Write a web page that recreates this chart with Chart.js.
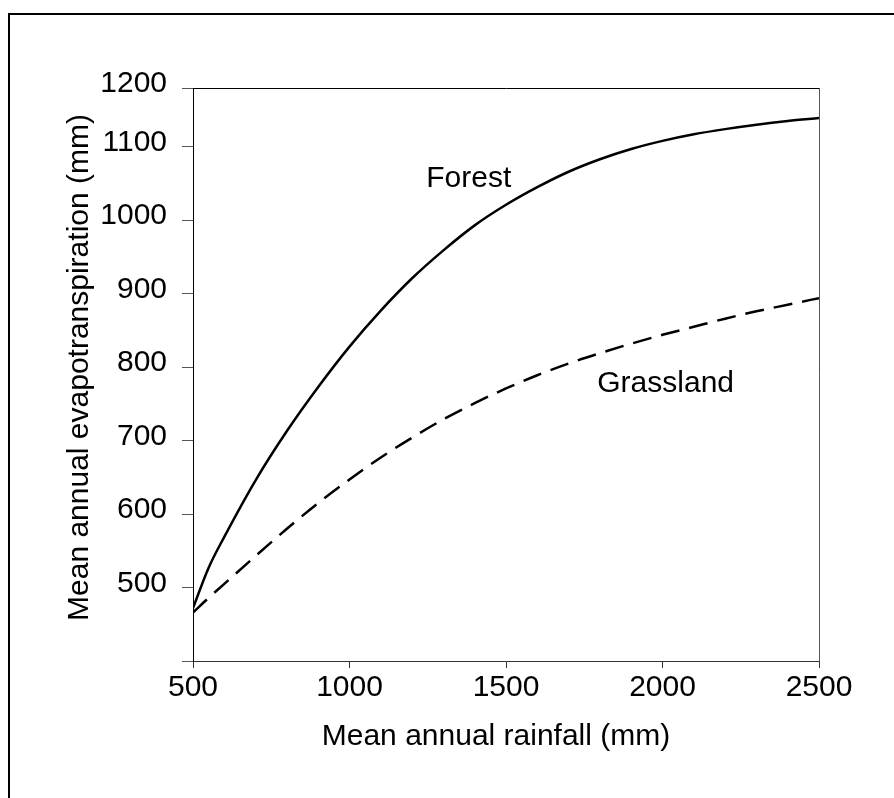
<!DOCTYPE html>
<html>
<head>
<meta charset="utf-8">
<title>Rainfall vs evapotranspiration</title>
<style>
  html, body { margin: 0; padding: 0; background: #fff; }
  #wrap { width: 894px; height: 798px; }
</style>
<script src="https://cdn.jsdelivr.net/npm/chart.js@4.4.1/dist/chart.umd.min.js"></script>
</head>
<body>
<div id="wrap"><canvas id="etChart" width="894" height="798"></canvas></div>
<script>
// Mean annual rainfall (mm) and the two evapotranspiration curves (mm)
const rainfall = [500, 550, 600, 700, 800, 900, 1000, 1100, 1200, 1300, 1400, 1500,
                  1600, 1700, 1800, 1900, 2000, 2100, 2200, 2300, 2400, 2500];
const forestET = [472, 527, 569, 646, 713, 773, 828, 877, 921, 959, 993, 1021,
                  1045, 1066, 1083, 1097, 1108, 1117, 1124, 1130, 1135, 1139];
const grasslandET = [466, 486, 505, 543, 580, 615, 647, 677, 704, 729, 751, 771,
                     789, 805, 819, 832, 844, 855, 866, 876, 885, 894];

const xTickValues = [500, 1000, 1500, 2000, 2500];
const yTickValues = [400, 500, 600, 700, 800, 900, 1000, 1100, 1180];
const yTickLabels = ['', '500', '600', '700', '800', '900', '1000', '1100', '1200'];

// curve names, placed in data units
const curveLabels = [
  { text: 'Forest', x: 1381, y: 1057 },
  { text: 'Grassland', x: 2010, y: 777 }
];

const FONT = "'Liberation Sans', Arial, Helvetica, sans-serif";

const toPoints = (xs, ys) => xs.map((x, i) => ({ x: x, y: ys[i] }));

// outer frame, top/right sides of the plot box, titles and curve names
const decorations = {
  id: 'decorations',
  beforeDraw(chart) {
    const ctx = chart.ctx;
    ctx.save();
    ctx.fillStyle = '#fff';
    ctx.fillRect(0, 0, chart.width, chart.height);
    ctx.restore();
  },
  afterDraw(chart) {
    const { ctx, chartArea: a, scales } = chart;
    ctx.save();

    ctx.fillStyle = '#000';
    ctx.fillRect(8, 13, chart.width, 2);
    ctx.fillRect(8, 13, 2, chart.height);

    ctx.lineWidth = 1;
    ctx.strokeStyle = '#000';
    ctx.beginPath();
    ctx.moveTo(a.left, a.top + 0.5);
    ctx.lineTo(a.right + 1, a.top + 0.5);
    ctx.stroke();

    ctx.strokeStyle = '#555';
    ctx.beginPath();
    ctx.moveTo(a.right + 0.5, a.top);
    ctx.lineTo(a.right + 0.5, a.bottom);
    ctx.stroke();

    ctx.fillStyle = '#000';
    ctx.font = '30px ' + FONT;
    ctx.textAlign = 'center';
    ctx.textBaseline = 'middle';

    ctx.fillText('Mean annual rainfall (mm)', a.left + (a.right - a.left) / 2 - 10, 737);

    ctx.save();
    ctx.translate(80, a.top + (a.bottom - a.top) / 2 - 7);
    ctx.rotate(-Math.PI / 2);
    ctx.fillText('Mean annual evapotranspiration (mm)', 0, 0);
    ctx.restore();

    curveLabels.forEach(l => {
      ctx.fillText(l.text, scales.x.getPixelForValue(l.x), scales.y.getPixelForValue(l.y));
    });

    ctx.restore();
  }
};

new Chart(document.getElementById('etChart').getContext('2d'), {
  type: 'line',
  data: {
    datasets: [
      {
        label: 'Forest',
        data: toPoints(rainfall, forestET),
        borderColor: '#000',
        borderWidth: 2.5,
        pointRadius: 0,
        cubicInterpolationMode: 'monotone',
        fill: false
      },
      {
        label: 'Grassland',
        data: toPoints(rainfall, grasslandET),
        borderColor: '#000',
        borderWidth: 2.5,
        borderDash: [19, 10],
        pointRadius: 0,
        cubicInterpolationMode: 'monotone',
        fill: false
      }
    ]
  },
  options: {
    responsive: false,
    animation: false,
    layout: { padding: { top: 88, right: 75, left: 0, bottom: 0 } },
    plugins: {
      legend: { display: false },
      tooltip: { enabled: false }
    },
    scales: {
      x: {
        type: 'linear',
        min: 500,
        max: 2500,
        afterFit(scale) { scale.height = 137; },
        afterBuildTicks(scale) { scale.ticks = xTickValues.map(v => ({ value: v })); },
        grid: { drawOnChartArea: false, drawTicks: true, tickLength: 7, color: '#333' },
        border: { display: true, color: '#333', width: 1 },
        ticks: {
          color: '#000',
          padding: 2,
          maxRotation: 0,
          font: { family: FONT, size: 30 },
          callback: v => String(v)
        }
      },
      y: {
        type: 'linear',
        min: 400,
        max: 1180,
        afterFit(scale) { scale.width = 193; },
        afterBuildTicks(scale) { scale.ticks = yTickValues.map(v => ({ value: v })); },
        grid: { drawOnChartArea: false, drawTicks: true, tickLength: 11, color: '#555' },
        border: { display: true, color: '#000', width: 1 },
        ticks: {
          color: '#000',
          padding: 15,
          labelOffset: -4,
          font: { family: FONT, size: 30 },
          callback: (v, i) => yTickLabels[i]
        }
      }
    }
  },
  plugins: [decorations]
});
</script>
</body>
</html>
